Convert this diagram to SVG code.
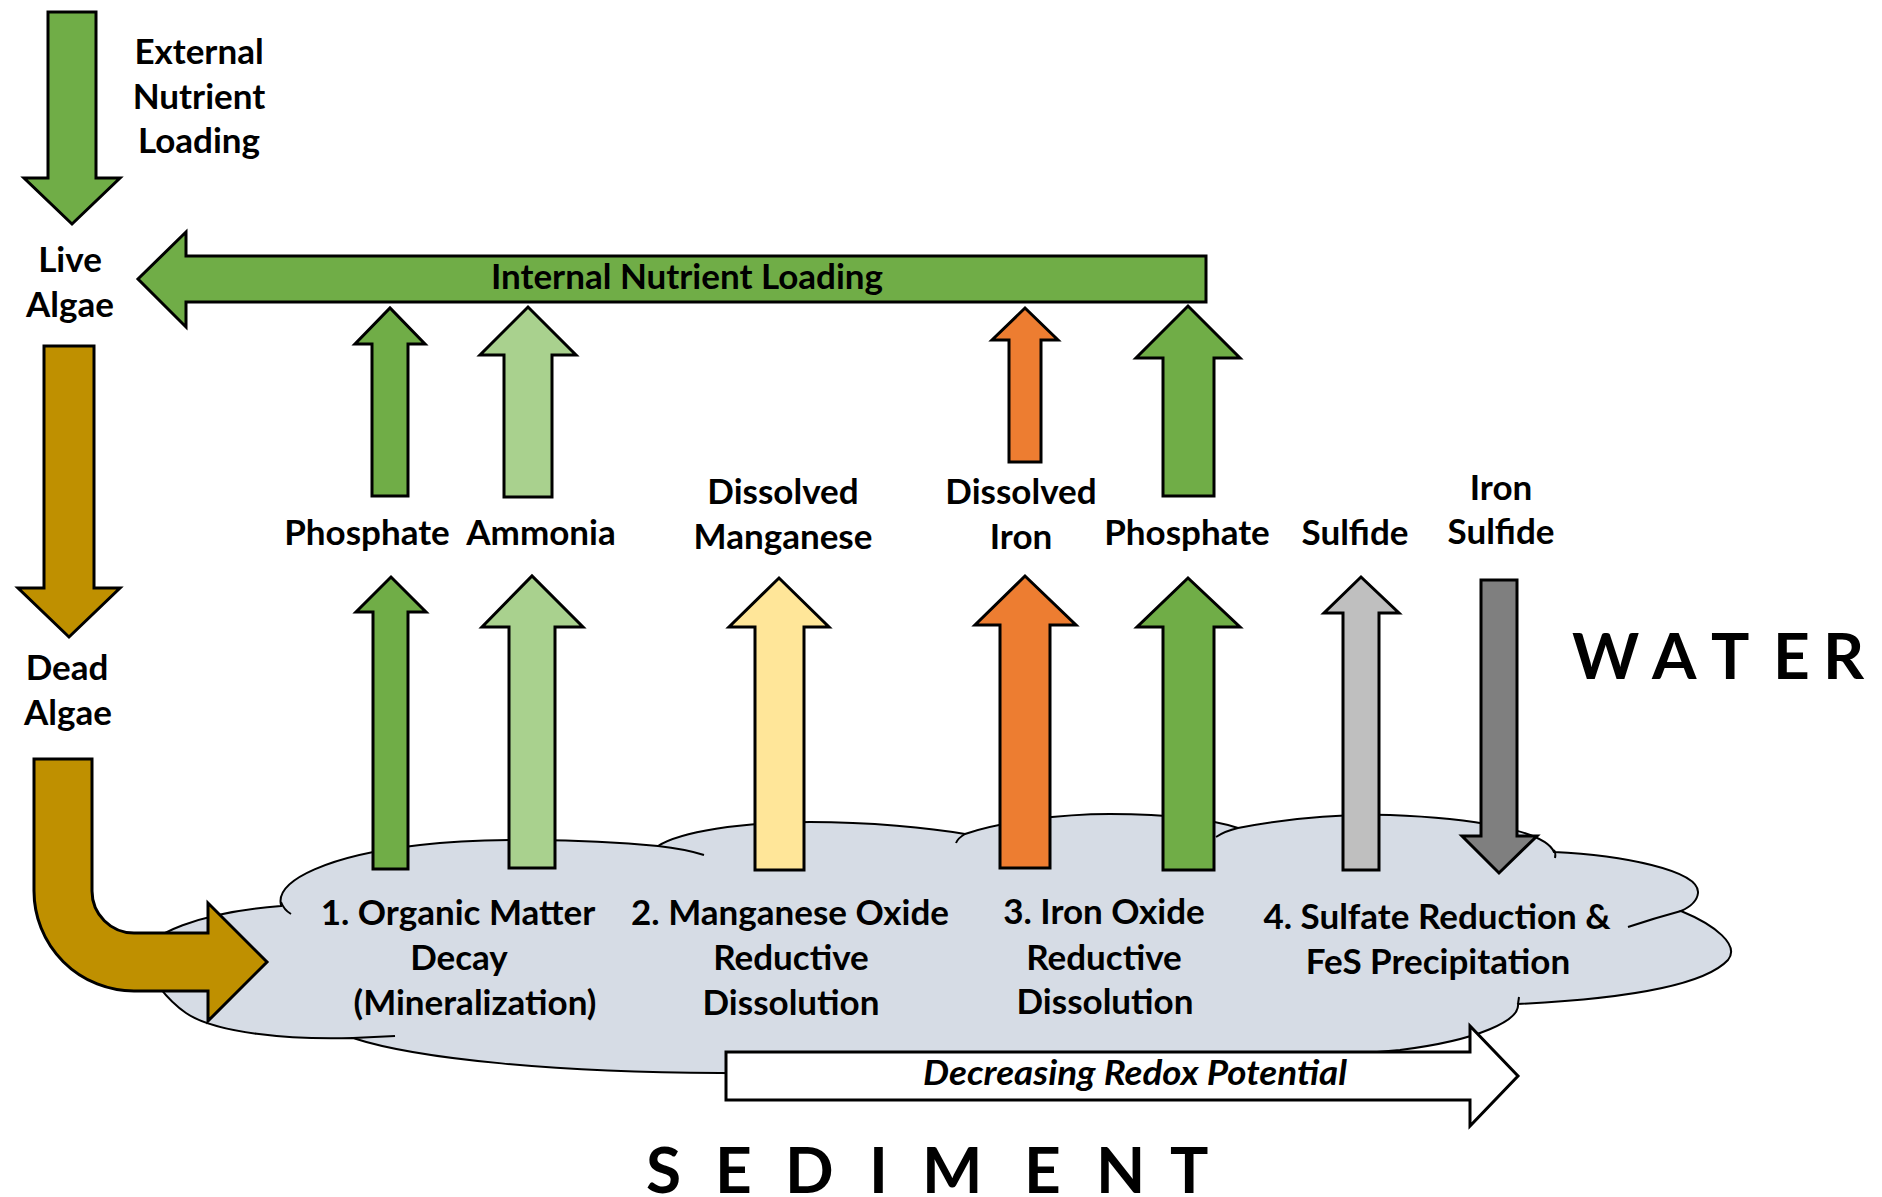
<svg xmlns="http://www.w3.org/2000/svg" width="1882" height="1197" viewBox="0 0 1882 1197">
<style>
.lbl{font-family:Lato,"Liberation Sans",sans-serif;font-weight:700;font-size:35px;text-anchor:middle;fill:#000}
.big{font-family:Lato,"Liberation Sans",sans-serif;font-weight:700;font-size:64px;fill:#000}
.ital{font-family:Lato,"Liberation Sans",sans-serif;font-weight:700;font-style:italic;font-size:34px;fill:#000}
.arr{stroke:#000;stroke-width:3;stroke-linejoin:miter}
.g{fill:#70AD47}.lg{fill:#A9D18E}.y{fill:#FFE699}.o{fill:#ED7D31}.gr{fill:#BFBFBF}.dg{fill:#7F7F7F}.br{fill:#BF9000}.w{fill:#FFFFFF}
.cloud{fill:#D6DCE5;stroke:#000;stroke-width:2}
.tick{fill:none;stroke:#000;stroke-width:2}
</style>
<rect width="1882" height="1197" fill="#FFFFFF"/>
<g id="sediment-cloud">
<path class="cloud" d="M 281 905 C 275 880, 330 855, 420 845 C 480 838, 580 838, 658 846 C 680 832, 740 822, 810 822 C 870 822, 930 828, 965 834 C 1000 822, 1060 814, 1110 814 C 1170 814, 1215 820, 1238 828 C 1290 818, 1340 814, 1390 815 C 1470 818, 1545 830, 1554 852 C 1620 855, 1700 870, 1698 893 C 1697 902, 1690 907, 1681 911 C 1715 925, 1740 945, 1728 960 C 1700 990, 1600 1000, 1518 1004 C 1520 1020, 1480 1040, 1400 1050 C 1320 1058, 1230 1058, 1190 1052 C 1100 1068, 900 1075, 720 1073 C 560 1072, 420 1060, 353 1038 C 290 1040, 215 1033, 186 1013 C 170 1002, 145 975, 145 955 C 145 935, 200 912, 281 906 Z"/>
<path class="tick" d="M 281 902 Q 284 910 291 914"/>
<path class="tick" d="M 658 846 Q 685 849 704 855"/>
<path class="tick" d="M 965 834 Q 958 838 956 843"/>
<path class="tick" d="M 1238 828 Q 1225 831 1216 837"/>
<path class="tick" d="M 1554 850 Q 1556 853 1555 858"/>
<path class="tick" d="M 1681 911 Q 1655 918 1628 927"/>
<path class="tick" d="M 1518 1004 L 1519 997"/>
<path class="tick" d="M 353 1038 Q 375 1037 395 1036"/>
</g>
<g id="connectors">
<polygon id="external-loading-arrow" class="arr g" points="48,12 96,12 96,178 120,178 72,224 24,178 48,178"/>
<polygon id="internal-loading-arrow" class="arr g" points="1206,256 1206,302 186,302 186,327 138,279 186,232 186,256"/>
<polygon id="live-to-dead-arrow" class="arr br" points="44,346 94,346 94,588 120,588 69,637 18,588 44,588"/>
<path id="dead-to-sediment-arrow" class="arr br" d="M 34 759 L 92 759 L 92 891 A 42 42 0 0 0 134 933 L 208 933 L 208 903 L 267 962 L 208 1021 L 208 991 L 134 991 A 100 100 0 0 1 34 891 Z"/>
<polygon id="phosphate1-up-upper" class="arr g" points="372,496 408,496 408,344 425,344 390,308 355,344 372,344"/>
<polygon id="ammonia-up-upper" class="arr lg" points="504,497 552,497 552,355 576,355 528,307 480,355 504,355"/>
<polygon id="iron-up-upper" class="arr o" points="1009,462 1041,462 1041,340 1058,340 1025,308 992,340 1009,340"/>
<polygon id="phosphate2-up-upper" class="arr g" points="1163,496 1214,496 1214,358 1240,358 1188,306 1136,358 1163,358"/>
<polygon id="phosphate1-up-lower" class="arr g" points="373,869 408,869 408,612 426,612 391,577 356,612 373,612"/>
<polygon id="ammonia-up-lower" class="arr lg" points="509,868 555,868 555,627 583,627 532,576 482,627 509,627"/>
<polygon id="manganese-up" class="arr y" points="755,870 804,870 804,627 829,627 779,578 729,627 755,627"/>
<polygon id="iron-up-lower" class="arr o" points="1000,868 1050,868 1050,625 1076,625 1025,576 975,625 1000,625"/>
<polygon id="phosphate2-up-lower" class="arr g" points="1163,870 1214,870 1214,627 1240,627 1188,578 1137,627 1163,627"/>
<polygon id="sulfide-up" class="arr gr" points="1343,870 1379,870 1379,613 1399,613 1361,577 1324,613 1343,613"/>
<polygon id="iron-sulfide-down" class="arr dg" points="1481,580 1517,580 1517,836 1537,836 1499,873 1462,836 1481,836"/>
<polygon id="redox-arrow" class="arr w" points="726,1052 1470,1052 1470,1026 1518,1076 1470,1126 1470,1100 726,1100"/>
</g>
<g id="external-label"><text class="lbl" x="199" y="64">External</text><text class="lbl" x="199" y="109">Nutrient</text><text class="lbl" x="199" y="153">Loading</text></g>
<g id="live-algae"><text class="lbl" x="70" y="272">Live</text><text class="lbl" x="70" y="317">Algae</text></g>
<g id="internal-label"><text class="lbl" x="687" y="289" font-size="31">Internal Nutrient Loading</text></g>
<g id="dead-algae"><text class="lbl" x="67" y="680">Dead</text><text class="lbl" x="68" y="725">Algae</text></g>
<g id="phosphate1"><text class="lbl" x="367" y="545">Phosphate</text></g>
<g id="ammonia"><text class="lbl" x="541" y="545">Ammonia</text></g>
<g id="dissolved-manganese"><text class="lbl" x="783" y="504">Dissolved</text><text class="lbl" x="783" y="549">Manganese</text></g>
<g id="dissolved-iron"><text class="lbl" x="1021" y="504">Dissolved</text><text class="lbl" x="1021" y="549">Iron</text></g>
<g id="phosphate2"><text class="lbl" x="1187" y="545">Phosphate</text></g>
<g id="sulfide"><text class="lbl" x="1355" y="545">Sulfide</text></g>
<g id="iron-sulfide"><text class="lbl" x="1501" y="500">Iron</text><text class="lbl" x="1501" y="544">Sulfide</text></g>
<g id="step1"><text class="lbl" x="458" y="925">1. Organic Matter</text><text class="lbl" x="459" y="970">Decay</text><text class="lbl" x="475" y="1015">(Mineralization)</text></g>
<g id="step2"><text class="lbl" x="790" y="925">2. Manganese Oxide</text><text class="lbl" x="791" y="970">Reductive</text><text class="lbl" x="791" y="1015">Dissolution</text></g>
<g id="step3"><text class="lbl" x="1104" y="924">3. Iron Oxide</text><text class="lbl" x="1104" y="970">Reductive</text><text class="lbl" x="1105" y="1014">Dissolution</text></g>
<g id="step4"><text class="lbl" x="1437" y="929">4. Sulfate Reduction &amp;</text><text class="lbl" x="1438" y="974">FeS Precipitation</text></g>
<g id="redox-label"><text class="ital" x="923" y="1085" textLength="424" lengthAdjust="spacingAndGlyphs">Decreasing Redox Potential</text></g>
<g id="water-label"><text class="big" x="1572 1652 1711 1773 1823" y="679">WATER</text></g>
<g id="sediment-label"><text class="big" x="646 715 785 869 922 1024 1096 1170" y="1193">SEDIMENT</text></g>
</svg>
